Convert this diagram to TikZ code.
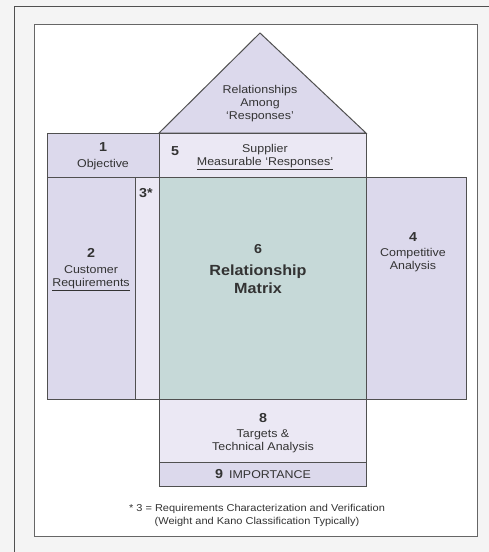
\documentclass[tikz,border=0pt]{standalone}
\usepackage{fontspec}
\setmainfont{Liberation Sans}[FakeStretch=1.1]
\definecolor{bgray}{HTML}{F4F4F4}
\definecolor{lav}{HTML}{DCD9EC}
\definecolor{lavl}{HTML}{EBE8F4}
\definecolor{mat}{HTML}{C6D9D8}
\definecolor{edge}{HTML}{505050}
\definecolor{txt}{HTML}{333333}
\tikzset{
  cell/.style={draw=edge, line width=1pt},
  lbl/.style={text=txt, font=\fontsize{11.3}{13}\selectfont, inner sep=0pt, align=center},
  num/.style={text=txt, font=\fontsize{13}{15}\selectfont\bfseries, inner sep=0pt},
  big/.style={text=txt, font=\fontsize{14.7}{18}\selectfont\bfseries, inner sep=0pt, align=center},
}
\begin{document}
\begin{tikzpicture}[x=1pt,y=-1pt]
\useasboundingbox (0,0) rectangle (489,552);
\fill[bgray] (0,0) rectangle (489,552);
\draw[edge, line width=1pt] (14,552) -- (14,6) -- (489,6);
% inner white frame with shadow
\fill[gray!70] (35,25) rectangle (478,537);
\fill[white] (34,24) rectangle (477,536);
\draw[gray!80!black, line width=1pt] (34,24) rectangle (477,536);
% roof
\filldraw[cell, fill=lav] (159,133) -- (260,33) -- (366,133) -- cycle;
% top row
\filldraw[cell, fill=lav] (47,133) rectangle (159,177);
\filldraw[cell, fill=lavl] (159,133) rectangle (366,177);
% middle row
\filldraw[cell, fill=lav] (47,177) rectangle (135,399);
\filldraw[cell, fill=lavl] (135,177) rectangle (159,399);
\filldraw[cell, fill=mat] (159,177) rectangle (366,399);
\filldraw[cell, fill=lav] (366,177) rectangle (466,399);
% bottom
\filldraw[cell, fill=lavl] (159,399) rectangle (366,462);
\filldraw[cell, fill=lav] (159,462) rectangle (366,486);
% texts
\node[lbl] (roof) at (260,104) {Relationships\\Among\\‘Responses’};
\node[num] (n1) at (103,147) {1};
\node[lbl] (t1) at (103,165) {Objective};
\node[num] (n5) at (175,151) {5};
\node[lbl] (t5) at (265,157) {Supplier\\\underline{Measurable ‘Responses’}};
\node[num] (n3) at (146,193) {3*};
\node[num] (n2) at (91,253) {2};
\node[lbl] (t2) at (91,278) {Customer\\\underline{Requirements}};
\node[num] (n6) at (258,249) {6};
\node[big] (t6) at (258,279) {Relationship\\Matrix};
\node[num] (n4) at (413,237) {4};
\node[lbl] (t4) at (413,260) {Competitive\\Analysis};
\node[num] (n8) at (263,418) {8};
\node[lbl] (t8) at (263,441) {Targets \&\\Technical Analysis};
\node[text=txt, inner sep=0pt] (t9) at (263,474) {{\fontsize{13}{15}\selectfont\bfseries 9}\ \ {\fontsize{11.3}{13}\selectfont IMPORTANCE}};
\node[lbl, font=\fontsize{10}{13}\selectfont] (fn) at (257,515) {* 3 = Requirements Characterization and Verification\\(Weight and Kano Classification Typically)};
\end{tikzpicture}
\end{document}
